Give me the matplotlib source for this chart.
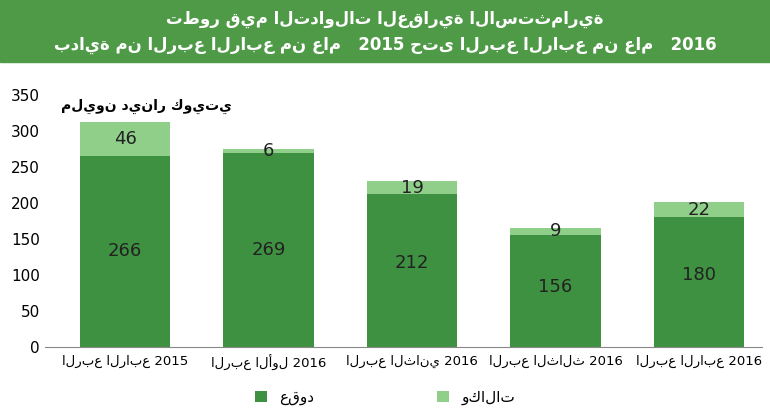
import numpy as np
import matplotlib.pyplot as plt
from matplotlib.patches import Rectangle

quarters = ['الربع الرابع 2015', 'الربع الأول 2016', 'الربع الثاني 2016',
            'الربع الثالث 2016', 'الربع الرابع 2016']
contracts = [266, 269, 212, 156, 180]
agencies = [46, 6, 19, 9, 22]

dark = '#3f9142'
light = '#8fcf8a'

fig = plt.figure(figsize=(7.7, 4.19), dpi=100)
fig.patches.append(Rectangle((0, 0.852), 1, 0.148, transform=fig.transFigure,
                             color='#4f9a47', zorder=0))
fig.text(0.5, 0.955, 'تطور قيم التداولات العقارية الاستثمارية', ha='center', va='center',
         color='white', fontsize=12, fontweight='bold')
fig.text(0.5, 0.892, 'بداية من الربع الرابع من عام   2015 حتى الربع الرابع من عام   2016',
         ha='center', va='center', color='white', fontsize=12, fontweight='bold')

ax = fig.add_axes([0.058, 0.172, 0.932, 0.601])
x = np.arange(len(quarters))
ax.bar(x, contracts, width=0.63, color=dark, label='عقود')
ax.bar(x, agencies, width=0.63, bottom=contracts, color=light, label='وكالات')
for i in x:
    ax.text(i, contracts[i] / 2 + 10 * (i >= 2) - 5 * (i == 3), str(contracts[i]),
            ha='center', va='center', fontsize=13, color='#222222')
    ax.text(i, contracts[i] + agencies[i] / 2, str(agencies[i]),
            ha='center', va='center', fontsize=13, color='#222222')

ax.set_ylim(0, 350)
ax.set_xlim(-0.56, 4.44)
ax.set_yticks(range(0, 351, 50))
ax.set_xticks(x)
ax.set_xticklabels(quarters, fontsize=9.5)
ax.tick_params(axis='y', labelsize=11, length=0)
ax.tick_params(axis='x', length=0, pad=6)
for s in ['top', 'right', 'left']:
    ax.spines[s].set_visible(False)
ax.spines['bottom'].set_color('#888888')
ax.text(0.15, 345, 'مليون دينار كويتي', ha='center', va='top', fontsize=10, fontweight='bold')

fig.legend(loc='lower center', bbox_to_anchor=(0.5, 0.0), ncol=2, frameon=False,
           fontsize=11, handlelength=0.8, columnspacing=8)
fig.savefig('out.png', dpi=100)
